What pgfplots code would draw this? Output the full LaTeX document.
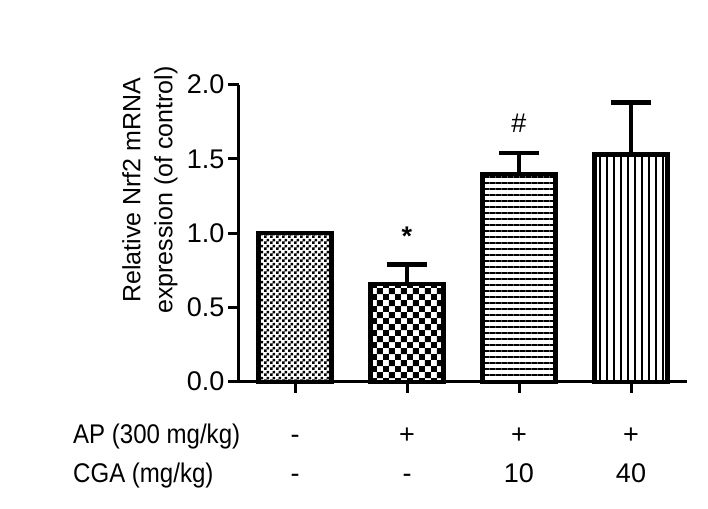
\documentclass[border=0pt]{standalone}
\usepackage{fontspec}
\setmainfont{Liberation Sans}
\newfontfamily\rowfont{Liberation Sans}[FakeStretch=0.89]
\usepackage{pgfplots}
\pgfplotsset{compat=1.18}
\usetikzlibrary{patterns}

\pgfdeclarepatternformonly{checkfine}{\pgfpointorigin}{\pgfqpoint{6pt}{6pt}}{\pgfqpoint{6pt}{6pt}}{%
  \pgfpathrectangle{\pgfpointorigin}{\pgfqpoint{3pt}{3pt}}%
  \pgfpathrectangle{\pgfqpoint{3pt}{3pt}}{\pgfqpoint{3pt}{3pt}}%
  \pgfusepath{fill}}
\pgfdeclarepatternformonly{checkcoarse}{\pgfpointorigin}{\pgfqpoint{12.4pt}{12.4pt}}{\pgfqpoint{12.4pt}{12.4pt}}{%
  \pgfpathrectangle{\pgfpointorigin}{\pgfqpoint{6.2pt}{6.2pt}}%
  \pgfpathrectangle{\pgfqpoint{6.2pt}{6.2pt}}{\pgfqpoint{6.2pt}{6.2pt}}%
  \pgfusepath{fill}}
\pgfdeclarepatternformonly{hlinesp}{\pgfpointorigin}{\pgfqpoint{6.3pt}{6.3pt}}{\pgfqpoint{6.3pt}{6.3pt}}{%
  \pgfpathrectangle{\pgfpointorigin}{\pgfqpoint{6.3pt}{2.2pt}}%
  \pgfusepath{fill}}
\pgfdeclarepatternformonly{vlinesp}{\pgfpointorigin}{\pgfqpoint{7.4pt}{7.4pt}}{\pgfqpoint{7.4pt}{7.4pt}}{%
  \pgfpathrectangle{\pgfpointorigin}{\pgfqpoint{2pt}{7.4pt}}%
  \pgfusepath{fill}}

\newcommand{\fs}{\fontsize{25}{32}\selectfont}
\newcommand{\ft}{\fontsize{27}{32}\selectfont}

\begin{document}
\begin{tikzpicture}
\useasboundingbox (-239pt,-126.3pt) rectangle (469pt,381.7pt);
\begin{axis}[
  at={(0pt,0pt)}, anchor=south west, scale only axis,
  width=448pt, height=297pt,
  xmin=-0.5, xmax=3.5, ymin=0, ymax=2,
  axis lines=left,
  axis line style={line width=3pt, -},
  xtick={0,1,2,3}, xticklabels={,,,},
  ytick={0,0.5,1,1.5,2},
  yticklabel style={/pgf/number format/.cd, fixed, fixed zerofill, precision=1, assume math mode=true},
  tick align=outside, major tick length=11pt,
  tick style={line width=3pt, black},
  ticklabel style={font=\ft},
  clip=false,
]
\addplot[ybar, bar width=73pt, bar shift=0pt, draw=black, line width=4.3pt, pattern=checkfine]
  coordinates {(0,1.0)};
\addplot[ybar, bar width=73pt, bar shift=0pt, draw=black, line width=4.3pt, pattern=checkcoarse,
  error bars/.cd, y dir=plus, y explicit,
  error bar style={line width=4.5pt, black},
  error mark options={black, line width=4.5pt, mark size=20pt, rotate=90}]
  coordinates {(1,0.66) +- (0,0.13)};
\addplot[ybar, bar width=73pt, bar shift=0pt, draw=black, line width=4.3pt, pattern=hlinesp,
  error bars/.cd, y dir=plus, y explicit,
  error bar style={line width=4.5pt, black},
  error mark options={black, line width=4.5pt, mark size=20pt, rotate=90}]
  coordinates {(2,1.40) +- (0,0.14)};
\addplot[ybar, bar width=73pt, bar shift=0pt, draw=black, line width=4.3pt, pattern=vlinesp,
  error bars/.cd, y dir=plus, y explicit,
  error bar style={line width=4.5pt, black},
  error mark options={black, line width=4.5pt, mark size=20pt, rotate=90}]
  coordinates {(3,1.53) +- (0,0.35)};

\node[anchor=base, font=\ft\bfseries] at (axis cs:1,0.915) {*};
\node[anchor=base, font=\ft] at (axis cs:2,1.675) {\#};

\node[rotate=90, align=center, font=\fs, anchor=center] at (axis cs:-1.295,1.29)
  {Relative Nrf2 mRNA\\expression (of control)};

\node[anchor=base west, font=\ft\rowfont, inner sep=0pt] at (axis cs:-1.982,-0.413) {AP (300 mg/kg)};
\node[anchor=base west, font=\ft\rowfont, inner sep=0pt] at (axis cs:-1.982,-0.682) {CGA (mg/kg)};
\node[anchor=base, font=\ft, inner sep=0pt] at (axis cs:0,-0.413) {-};
\node[anchor=base, font=\ft, inner sep=0pt] at (axis cs:1,-0.413) {+};
\node[anchor=base, font=\ft, inner sep=0pt] at (axis cs:2,-0.413) {+};
\node[anchor=base, font=\ft, inner sep=0pt] at (axis cs:3,-0.413) {+};
\node[anchor=base, font=\ft, inner sep=0pt] at (axis cs:0,-0.682) {-};
\node[anchor=base, font=\ft, inner sep=0pt] at (axis cs:1,-0.682) {-};
\node[anchor=base, font=\ft, inner sep=0pt] at (axis cs:2,-0.682) {10};
\node[anchor=base, font=\ft, inner sep=0pt] at (axis cs:3,-0.682) {40};
\end{axis}
\end{tikzpicture}
\end{document}
